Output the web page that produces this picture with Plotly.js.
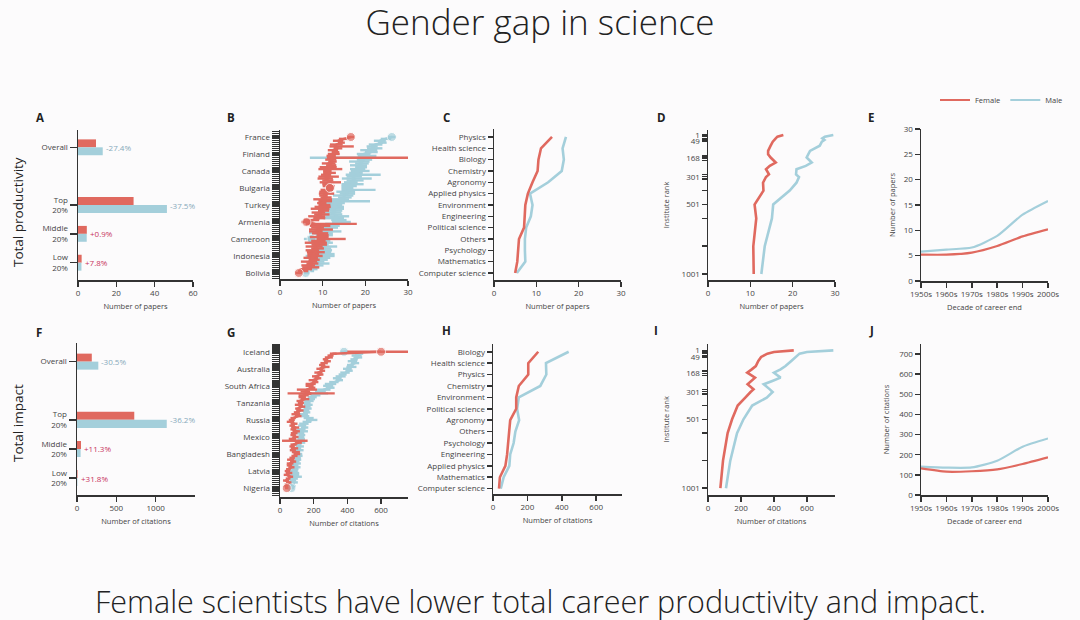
<!DOCTYPE html>
<html><head><meta charset="utf-8">
<script src="https://cdn.plot.ly/plotly-3.0.1.min.js"></script>
<style>html,body{margin:0;padding:0;background:#fcfbfc;}</style>
</head><body><div id="chart" style="width:1080px;height:620px;"></div>
<script>
// ---------- DATA ----------
const groupLabels = ['Overall', 'Top<br>20%', 'Middle<br>20%', 'Low<br>20%'];
const papersFemale = [9.4, 29.0, 4.6, 1.9];
const papersMale = [12.9, 46.4, 4.55, 1.8];
const papersPct = ['-27.4%', '-37.5%', '+0.9%', '+7.8%'];
const citesFemale = [188, 728, 51, 6.6];
const citesMale = [271, 1141, 46, 5];
const citesPct = ['-30.5%', '-36.2%', '+11.3%', '+31.8%'];

const countryCount = 73;
const countryLabelsB = ['France', 'Finland', 'Canada', 'Bulgaria', 'Turkey', 'Armenia', 'Cameroon', 'Indonesia', 'Bolivia'];
const countryLabelsG = ['Iceland', 'Australia', 'South Africa', 'Tanzania', 'Russia', 'Mexico', 'Bangladesh', 'Latvia', 'Nigeria'];

const countryPapersF = [16.6,14.8,13.6,14.4,13.2,12.8,13.6,12.4,13.0,12.6,12.0,12.6,11.9,12.3,11.4,12.0,11.3,11.8,11.1,11.6,10.8,11.4,10.6,11.2,11.8,11.0,11.4,11.7,11.0,10.4,10.9,10.2,10.8,10.0,10.6,9.8,10.4,10.0,9.4,10.2,9.0,9.8,8.6,9.2,7.4,6.2,8.0,9.4,8.8,9.6,8.4,9.4,10.0,9.2,10.4,9.0,8.4,9.2,8.0,8.8,7.6,8.4,7.8,8.2,7.2,8.0,6.8,7.6,6.6,7.2,6.0,5.4,4.4];
const countryPapersFErrPlus = [0.8,1.0,1.2,0.8,1.5,4.5,1.0,1.2,0.9,1.4,1.1,17.4,1.3,1.0,1.6,1.2,2.0,2.8,1.0,1.5,1.2,2.4,1.8,1.3,2.5,1.1,1.4,1.0,1.5,1.2,1.8,1.0,1.3,2.2,1.6,1.1,1.4,1.9,2.2,1.3,1.6,1.8,2.0,1.4,1.8,1.2,10.0,2.4,1.5,2.8,1.6,1.9,1.4,2.2,5.0,1.7,2.6,1.8,2.0,1.5,1.6,2.1,1.4,1.8,1.7,1.3,1.9,1.4,1.6,2.0,1.5,1.2,0.8];
const countryPapersFErrMinus = [0.8,1.0,1.2,0.8,1.5,1.2,1.0,1.2,0.9,1.4,1.1,1.6,1.3,1.0,1.6,1.2,2.0,2.8,1.0,1.5,1.2,2.4,1.8,1.3,2.5,1.1,1.4,1.0,1.5,1.2,1.8,1.0,1.3,2.2,1.6,1.1,1.4,1.9,2.2,1.3,1.6,1.8,2.0,1.4,1.8,1.2,2.0,2.4,1.5,2.8,1.6,1.9,1.4,2.2,1.8,1.7,2.6,1.8,2.0,1.5,1.6,2.1,1.4,1.8,1.7,1.3,1.9,1.4,1.6,2.0,1.5,1.2,0.8];
const countryPapersM = [26.2,24.8,23.4,24.0,22.4,21.6,22.2,20.8,21.4,19.6,20.4,19.0,19.8,18.6,19.2,18.4,19.0,18.2,18.8,17.8,18.4,17.4,17.0,17.6,16.6,17.0,16.2,15.8,16.4,15.4,15.8,14.8,15.2,14.2,13.6,13.0,12.6,13.2,12.4,13.0,12.2,12.8,13.4,12.6,13.8,14.4,13.6,12.0,11.0,10.2,11.2,9.6,10.4,8.8,7.4,9.2,10.0,9.4,10.6,9.8,10.4,9.6,10.2,9.4,9.8,9.0,8.6,9.2,8.2,7.6,7.0,6.6,6.0];
const countryPapersMErrPlus = [1.0,1.2,1.4,1.0,1.6,1.3,1.8,2.0,1.5,1.6,2.2,2.0,1.8,2.4,1.6,2.0,1.4,1.8,2.2,1.6,5.2,1.8,4.5,2.0,1.6,2.6,1.8,1.4,6.0,2.2,1.8,2.4,1.6,2.0,7.5,2.2,2.0,1.8,2.6,1.6,2.2,1.8,2.8,2.4,1.8,2.2,3.0,2.0,2.6,2.2,3.2,2.8,2.0,2.4,1.8,2.6,2.4,2.0,2.8,2.2,1.8,2.4,2.6,3.4,2.0,2.2,1.8,2.4,2.0,1.6,1.8,1.4,1.0];
const countryPapersMErrMinus = [1.0,1.2,1.4,1.0,1.6,1.3,1.8,2.0,1.5,1.6,2.2,12.0,1.8,2.4,1.6,2.0,1.4,1.8,2.2,1.6,3.0,1.8,2.5,2.0,1.6,2.6,1.8,1.4,2.0,2.2,1.8,2.4,1.6,2.0,2.0,2.2,2.0,1.8,2.6,1.6,2.2,1.8,2.8,2.4,1.8,2.2,3.0,2.0,2.6,2.2,3.2,2.8,2.0,2.4,1.8,2.6,2.4,2.0,2.8,2.2,1.8,2.4,2.6,3.4,2.0,2.2,1.8,2.4,2.0,1.6,1.8,1.4,1.0];

const countryCitesF = [600,316,300,290,270,282,262,250,268,236,252,228,240,212,225,196,210,182,176,190,160,150,185,140,132,148,118,124,112,130,106,118,100,94,108,78,70,62,84,72,90,80,96,84,78,92,74,88,110,80,72,86,76,94,100,86,72,64,78,60,56,68,50,44,54,40,62,48,36,52,42,38,40];
const countryCitesFErr = [200,20,18,24,16,20,22,18,26,20,16,24,18,22,20,26,18,30,24,20,60,28,140,30,22,26,20,18,24,20,16,22,18,26,20,16,18,22,20,16,24,18,22,20,16,18,22,76,20,18,16,22,18,24,20,18,16,22,18,20,16,18,14,16,20,18,16,14,18,16,14,12,10];
const countryCitesM = [380,470,455,462,440,430,446,418,424,400,410,386,372,360,340,352,320,300,286,298,260,240,226,210,192,184,172,160,168,152,164,146,158,140,150,170,188,160,142,132,146,126,138,120,130,118,126,112,122,108,118,104,114,100,108,112,98,106,94,100,90,96,88,82,94,86,100,84,76,82,70,74,68];
const countryCitesMErr = [20,24,30,26,22,28,24,20,30,26,22,28,24,30,26,22,28,34,30,26,40,32,60,30,26,24,28,22,26,30,24,28,22,26,24,30,34,26,28,24,22,26,28,24,20,26,22,24,28,20,24,22,26,20,24,22,26,20,22,24,20,26,22,24,20,28,30,22,20,24,18,20,16];

const fieldsC = ['Physics','Health science','Biology','Chemistry','Agronomy','Applied physics','Environment','Engineering','Political science','Others','Psychology','Mathematics','Computer science'];
const fieldPapersF = [13.7,11.1,10.5,10.3,9.1,8.0,7.4,7.3,7.1,5.9,5.7,5.5,5.0];
const fieldPapersM = [17.0,16.2,16.5,16.0,12.8,8.5,9.1,8.7,7.6,7.3,7.3,7.4,5.4];
const fieldsH = ['Biology','Health science','Physics','Chemistry','Environment','Political science','Agronomy','Others','Psychology','Engineering','Applied physics','Mathematics','Computer science'];
const fieldCitesF = [263,205,205,150,135,135,100,95,90,82,72,40,35];
const fieldCitesM = [440,308,310,275,150,140,152,130,120,100,95,62,45];

const instRanks = [1,13,25,37,49,78,115,139,163,199,223,247,284,303,344,401,501,601,801,1001];
const rankTicks = [1,13,25,37,49,151,168,185,284,301,318,401,501,601,801,1001];
const rankTickText = ['1','','','','49','','168','','','301','','','501','','','1001'];
const instPapersF = [17.8,16.4,16.0,15.6,15.3,14.8,14.2,14.2,14.8,16.0,14.6,13.7,14.4,13.7,13.0,13.1,11.0,11.4,10.7,10.8];
const instPapersM = [29.6,27.6,27.0,27.5,26.9,26.4,24.1,23.6,23.3,24.5,23.1,20.9,20.8,21.5,20.9,19.3,15.4,15.1,13.4,12.6];
const instCitesF = [520,400,360,335,322,305,290,265,238,285,262,240,276,258,226,180,146,119,91,75];
const instCitesM = [760,600,555,542,535,505,470,440,400,440,390,338,375,392,356,268,215,176,135,109];

const decades = ['1950s','1960s','1970s','1980s','1990s','2000s'];
const decPapersF = [5.2,5.2,5.6,6.9,8.8,10.2];
const decPapersM = [5.8,6.2,6.6,8.9,13.1,15.8];
const decCitesF = [132,116,118,127,154,187];
const decCitesM = [141,136,137,170,240,281];

// ---------- STYLE ----------
const RED = '#e0695f', BLUE = '#a4cfdb';
const NEG = '#86a9bb', POS = '#c8345e';
const FONT = '"Open Sans", "DejaVu Sans", sans-serif';
const W = 1080, H = 620;
const xd = (a, b) => [a / W, b / W];
const yd = (t, b) => [1 - b / H, 1 - t / H];
const tf = {family: FONT, size: 8, color: '#444'};
const base = {showline: true, linecolor: '#333', linewidth: 1.5, ticks: 'outside', ticklen: 5, tickwidth: 1.5,
  tickcolor: '#333', showgrid: false, zeroline: false, tickfont: tf, fixedrange: true, automargin: false};
const ttl = (t, s) => ({text: t, font: {family: FONT, size: 7.5, color: '#444'}, standoff: s === undefined ? 6 : s});

const barPos = groupLabels.map((_, i) => i === 0 ? 0 : i + 1);
const countryIdx = Array.from({length: countryCount}, (_, i) => i);
const labelStep = (countryCount - 1) / (countryLabelsB.length - 1);
const countryTickVals = countryLabelsB.map((_, i) => i * labelStep);
const sizes = (idxs, s) => countryIdx.map(i => idxs.includes(i) ? s : 0);

const traces = [];
// A
traces.push({type: 'bar', orientation: 'h', x: papersFemale, y: barPos, xaxis: 'x', yaxis: 'y', marker: {color: RED}, showlegend: false, hoverinfo: 'x'});
traces.push({type: 'bar', orientation: 'h', x: papersMale, y: barPos, xaxis: 'x', yaxis: 'y', marker: {color: BLUE}, showlegend: false, hoverinfo: 'x'});
// F
traces.push({type: 'bar', orientation: 'h', x: citesFemale, y: barPos, xaxis: 'x6', yaxis: 'y6', marker: {color: RED}, showlegend: false, hoverinfo: 'x'});
traces.push({type: 'bar', orientation: 'h', x: citesMale, y: barPos, xaxis: 'x6', yaxis: 'y6', marker: {color: BLUE}, showlegend: false, hoverinfo: 'x'});
// B, G
function countryTrace(vals, errPlus, errMinus, color, xa, ya, dots) {
  return {type: 'scatter', mode: 'lines+markers', x: vals, y: countryIdx, xaxis: xa, yaxis: ya,
    line: {color: color, width: 2.6}, marker: {color: color, size: sizes(dots, 9)},
    error_x: {type: 'data', symmetric: false, array: errPlus, arrayminus: errMinus, color: color, thickness: 2.4, width: 0},
    showlegend: false, cliponaxis: true};
}
traces.push(countryTrace(countryPapersM, countryPapersMErrPlus, countryPapersMErrMinus, BLUE, 'x2', 'y2', [0, 54, 72]));
traces.push(countryTrace(countryPapersF, countryPapersFErrPlus, countryPapersFErrMinus, RED, 'x2', 'y2', [0, 27, 45, 72]));
traces.push(countryTrace(countryCitesM, countryCitesMErr, countryCitesMErr, BLUE, 'x7', 'y7', [0, 72]));
traces.push(countryTrace(countryCitesF, countryCitesFErr, countryCitesFErr, RED, 'x7', 'y7', [0, 72]));
// C, H
const ln = (x, y, c, xa, ya, w) => ({type: 'scatter', mode: 'lines', x: x, y: y, xaxis: xa, yaxis: ya, line: {color: c, width: w || 2.6}, showlegend: false});
traces.push(ln(fieldPapersM, fieldsC, BLUE, 'x3', 'y3'));
traces.push(ln(fieldPapersF, fieldsC, RED, 'x3', 'y3'));
traces.push(ln(fieldCitesM, fieldsH, BLUE, 'x8', 'y8'));
traces.push(ln(fieldCitesF, fieldsH, RED, 'x8', 'y8'));
// D, I
traces.push(ln(instPapersM, instRanks, BLUE, 'x4', 'y4'));
traces.push(ln(instPapersF, instRanks, RED, 'x4', 'y4'));
traces.push(ln(instCitesM, instRanks, BLUE, 'x9', 'y9'));
traces.push(ln(instCitesF, instRanks, RED, 'x9', 'y9'));
// E, J
traces.push({type: 'scatter', mode: 'lines', x: decades, y: decPapersF, xaxis: 'x5', yaxis: 'y5', name: 'Female', line: {color: RED, width: 2.2, shape: 'spline', smoothing: 0.6}, showlegend: true});
traces.push({type: 'scatter', mode: 'lines', x: decades, y: decPapersM, xaxis: 'x5', yaxis: 'y5', name: 'Male', line: {color: BLUE, width: 2.2, shape: 'spline', smoothing: 0.6}, showlegend: true});
traces.push({type: 'scatter', mode: 'lines', x: decades, y: decCitesM, xaxis: 'x10', yaxis: 'y10', line: {color: BLUE, width: 2.2, shape: 'spline', smoothing: 0.6}, showlegend: false});
traces.push({type: 'scatter', mode: 'lines', x: decades, y: decCitesF, xaxis: 'x10', yaxis: 'y10', line: {color: RED, width: 2.2, shape: 'spline', smoothing: 0.6}, showlegend: false});

const minorTicks = {tickmode: 'linear', tick0: 0, dtick: 1, ticks: 'outside', ticklen: 7, tickwidth: 1.2, tickcolor: '#333'};
const layout = {
  width: W, height: H, margin: {l: 0, r: 0, t: 0, b: 0},
  paper_bgcolor: '#fcfbfc', plot_bgcolor: 'rgba(0,0,0,0)',
  font: {family: FONT, color: '#333'},
  barmode: 'group', bargap: 0.45, bargroupgap: 0,
  title: {text: 'Gender gap in science', x: 0.5, xanchor: 'center', y: 1 - 23 / H, yanchor: 'middle',
    font: {family: FONT, size: 35, color: '#222', weight: 300}},
  legend: {orientation: 'h', x: 1068 / W, xanchor: 'right', y: 1 - 100 / H, yanchor: 'middle',
    font: {family: FONT, size: 7.5, color: '#444'}, bgcolor: 'rgba(0,0,0,0)', itemwidth: 30, tracegroupgap: 0},
  // A
  xaxis: {...base, domain: xd(78, 193), range: [0, 60], tickvals: [0, 20, 40, 60], anchor: 'y', title: ttl('Number of papers')},
  yaxis: {...base, domain: yd(130, 280), range: [4.6, -0.6], tickvals: barPos, ticktext: groupLabels, anchor: 'x', ticklen: 7},
  // B
  xaxis2: {...base, domain: xd(280, 408), range: [0, 30], tickvals: [0, 10, 20, 30], anchor: 'y2', title: ttl('Number of papers')},
  yaxis2: {...base, domain: yd(130, 279), range: [75.2, -3.7], tickvals: countryTickVals, ticktext: countryLabelsB, anchor: 'x2',
    ticklen: 7, tickwidth: 3, minor: minorTicks},
  // C
  xaxis3: {...base, domain: xd(494, 621), range: [0, 30], tickvals: [0, 10, 20, 30], anchor: 'y3', title: ttl('Number of papers')},
  yaxis3: {...base, domain: yd(129, 280), type: 'category', categoryorder: 'array', categoryarray: fieldsC, range: [12.62, -0.7], anchor: 'x3'},
  // D
  xaxis4: {...base, domain: xd(708, 835), range: [0, 30], tickvals: [0, 10, 20, 30], anchor: 'y4', title: ttl('Number of papers')},
  yaxis4: {...base, domain: yd(130, 280), range: [1044, -35], tickvals: rankTicks, ticktext: rankTickText, anchor: 'x4', title: ttl('Institute rank', 11)},
  // E
  xaxis5: {...base, domain: xd(921, 1048), type: 'category', range: [0, 5], anchor: 'y5', title: ttl('Decade of career end')},
  yaxis5: {...base, domain: yd(129, 281), range: [0, 30], tickvals: [0, 5, 10, 15, 20, 25, 30], anchor: 'x5', title: ttl('Number of papers', 7)},
  // F
  xaxis6: {...base, domain: xd(77, 195), range: [0, 1500], tickvals: [0, 500, 1000], anchor: 'y6', title: ttl('Number of citations')},
  yaxis6: {...base, domain: yd(343, 495), range: [4.58, -0.64], tickvals: barPos, ticktext: groupLabels, anchor: 'x6', ticklen: 7},
  // G
  xaxis7: {...base, domain: xd(280, 408), range: [0, 760], tickvals: [0, 200, 400, 600], anchor: 'y7', title: ttl('Number of citations')},
  yaxis7: {...base, domain: yd(344, 497), range: [76.7, -4.1], tickvals: countryTickVals, ticktext: countryLabelsG, anchor: 'x7',
    ticklen: 7, tickwidth: 3, minor: minorTicks},
  // H
  xaxis8: {...base, domain: xd(493, 622), range: [0, 750], tickvals: [0, 200, 400, 600], anchor: 'y8', title: ttl('Number of citations')},
  yaxis8: {...base, domain: yd(344, 494), type: 'category', categoryorder: 'array', categoryarray: fieldsH, range: [12.47, -0.68], anchor: 'x8'},
  // I
  xaxis9: {...base, domain: xd(708, 835), range: [0, 770], tickvals: [0, 200, 400, 600], anchor: 'y9', title: ttl('Number of citations')},
  yaxis9: {...base, domain: yd(344, 495), range: [1050, -45], tickvals: rankTicks, ticktext: rankTickText, anchor: 'x9', title: ttl('Institute rank', 11)},
  // J
  xaxis10: {...base, domain: xd(921, 1048), type: 'category', range: [0, 5], anchor: 'y10', title: ttl('Decade of career end')},
  yaxis10: {...base, domain: yd(344, 495), range: [0, 750], tickvals: [0, 100, 200, 300, 400, 500, 600, 700], anchor: 'x10', title: ttl('Number of citations', 8)},
  annotations: []
};

// percentage labels
function pctAnn(fem, mal, txt, xa, ya) {
  return txt.map((t, i) => ({x: Math.max(fem[i], mal[i]), y: barPos[i], xref: xa, yref: ya, text: t, showarrow: false,
    xanchor: 'left', yanchor: 'middle', xshift: 1, font: {family: FONT, size: 8, color: t[0] === '-' ? NEG : POS}}));
}
layout.annotations.push(...pctAnn(papersFemale, papersMale, papersPct, 'x', 'y'));
layout.annotations.push(...pctAnn(citesFemale, citesMale, citesPct, 'x6', 'y6'));

// panel letters
const letters = [['A', 40, 117], ['B', 231, 117], ['C', 446, 117], ['D', 661, 117], ['E', 871, 117],
                 ['F', 39, 332], ['G', 231, 332], ['H', 446, 331], ['I', 656, 331], ['J', 871, 331]];
letters.forEach(([t, x, y]) => layout.annotations.push({text: '<b>' + t + '</b>', x: x / W, y: 1 - y / H, xref: 'paper', yref: 'paper',
  showarrow: false, xanchor: 'center', yanchor: 'middle', font: {family: FONT, size: 11.5, color: '#222'}}));

// row labels
layout.annotations.push({text: 'Total productivity', x: 18 / W, y: 1 - 212 / H, xref: 'paper', yref: 'paper', textangle: -90,
  showarrow: false, xanchor: 'center', yanchor: 'middle', font: {family: FONT, size: 13.5, color: '#222'}});
layout.annotations.push({text: 'Total impact', x: 18 / W, y: 1 - 423 / H, xref: 'paper', yref: 'paper', textangle: -90,
  showarrow: false, xanchor: 'center', yanchor: 'middle', font: {family: FONT, size: 13.5, color: '#222'}});
// subtitle
layout.annotations.push({text: 'Female scientists have lower total career productivity and impact.', x: 0.5, y: 1 - 601 / H,
  xref: 'paper', yref: 'paper', showarrow: false, xanchor: 'center', yanchor: 'middle', font: {family: FONT, size: 30.5, color: '#222', weight: 300}});

Plotly.newPlot('chart', traces, layout, {staticPlot: true, displayModeBar: false});
</script></body></html>
